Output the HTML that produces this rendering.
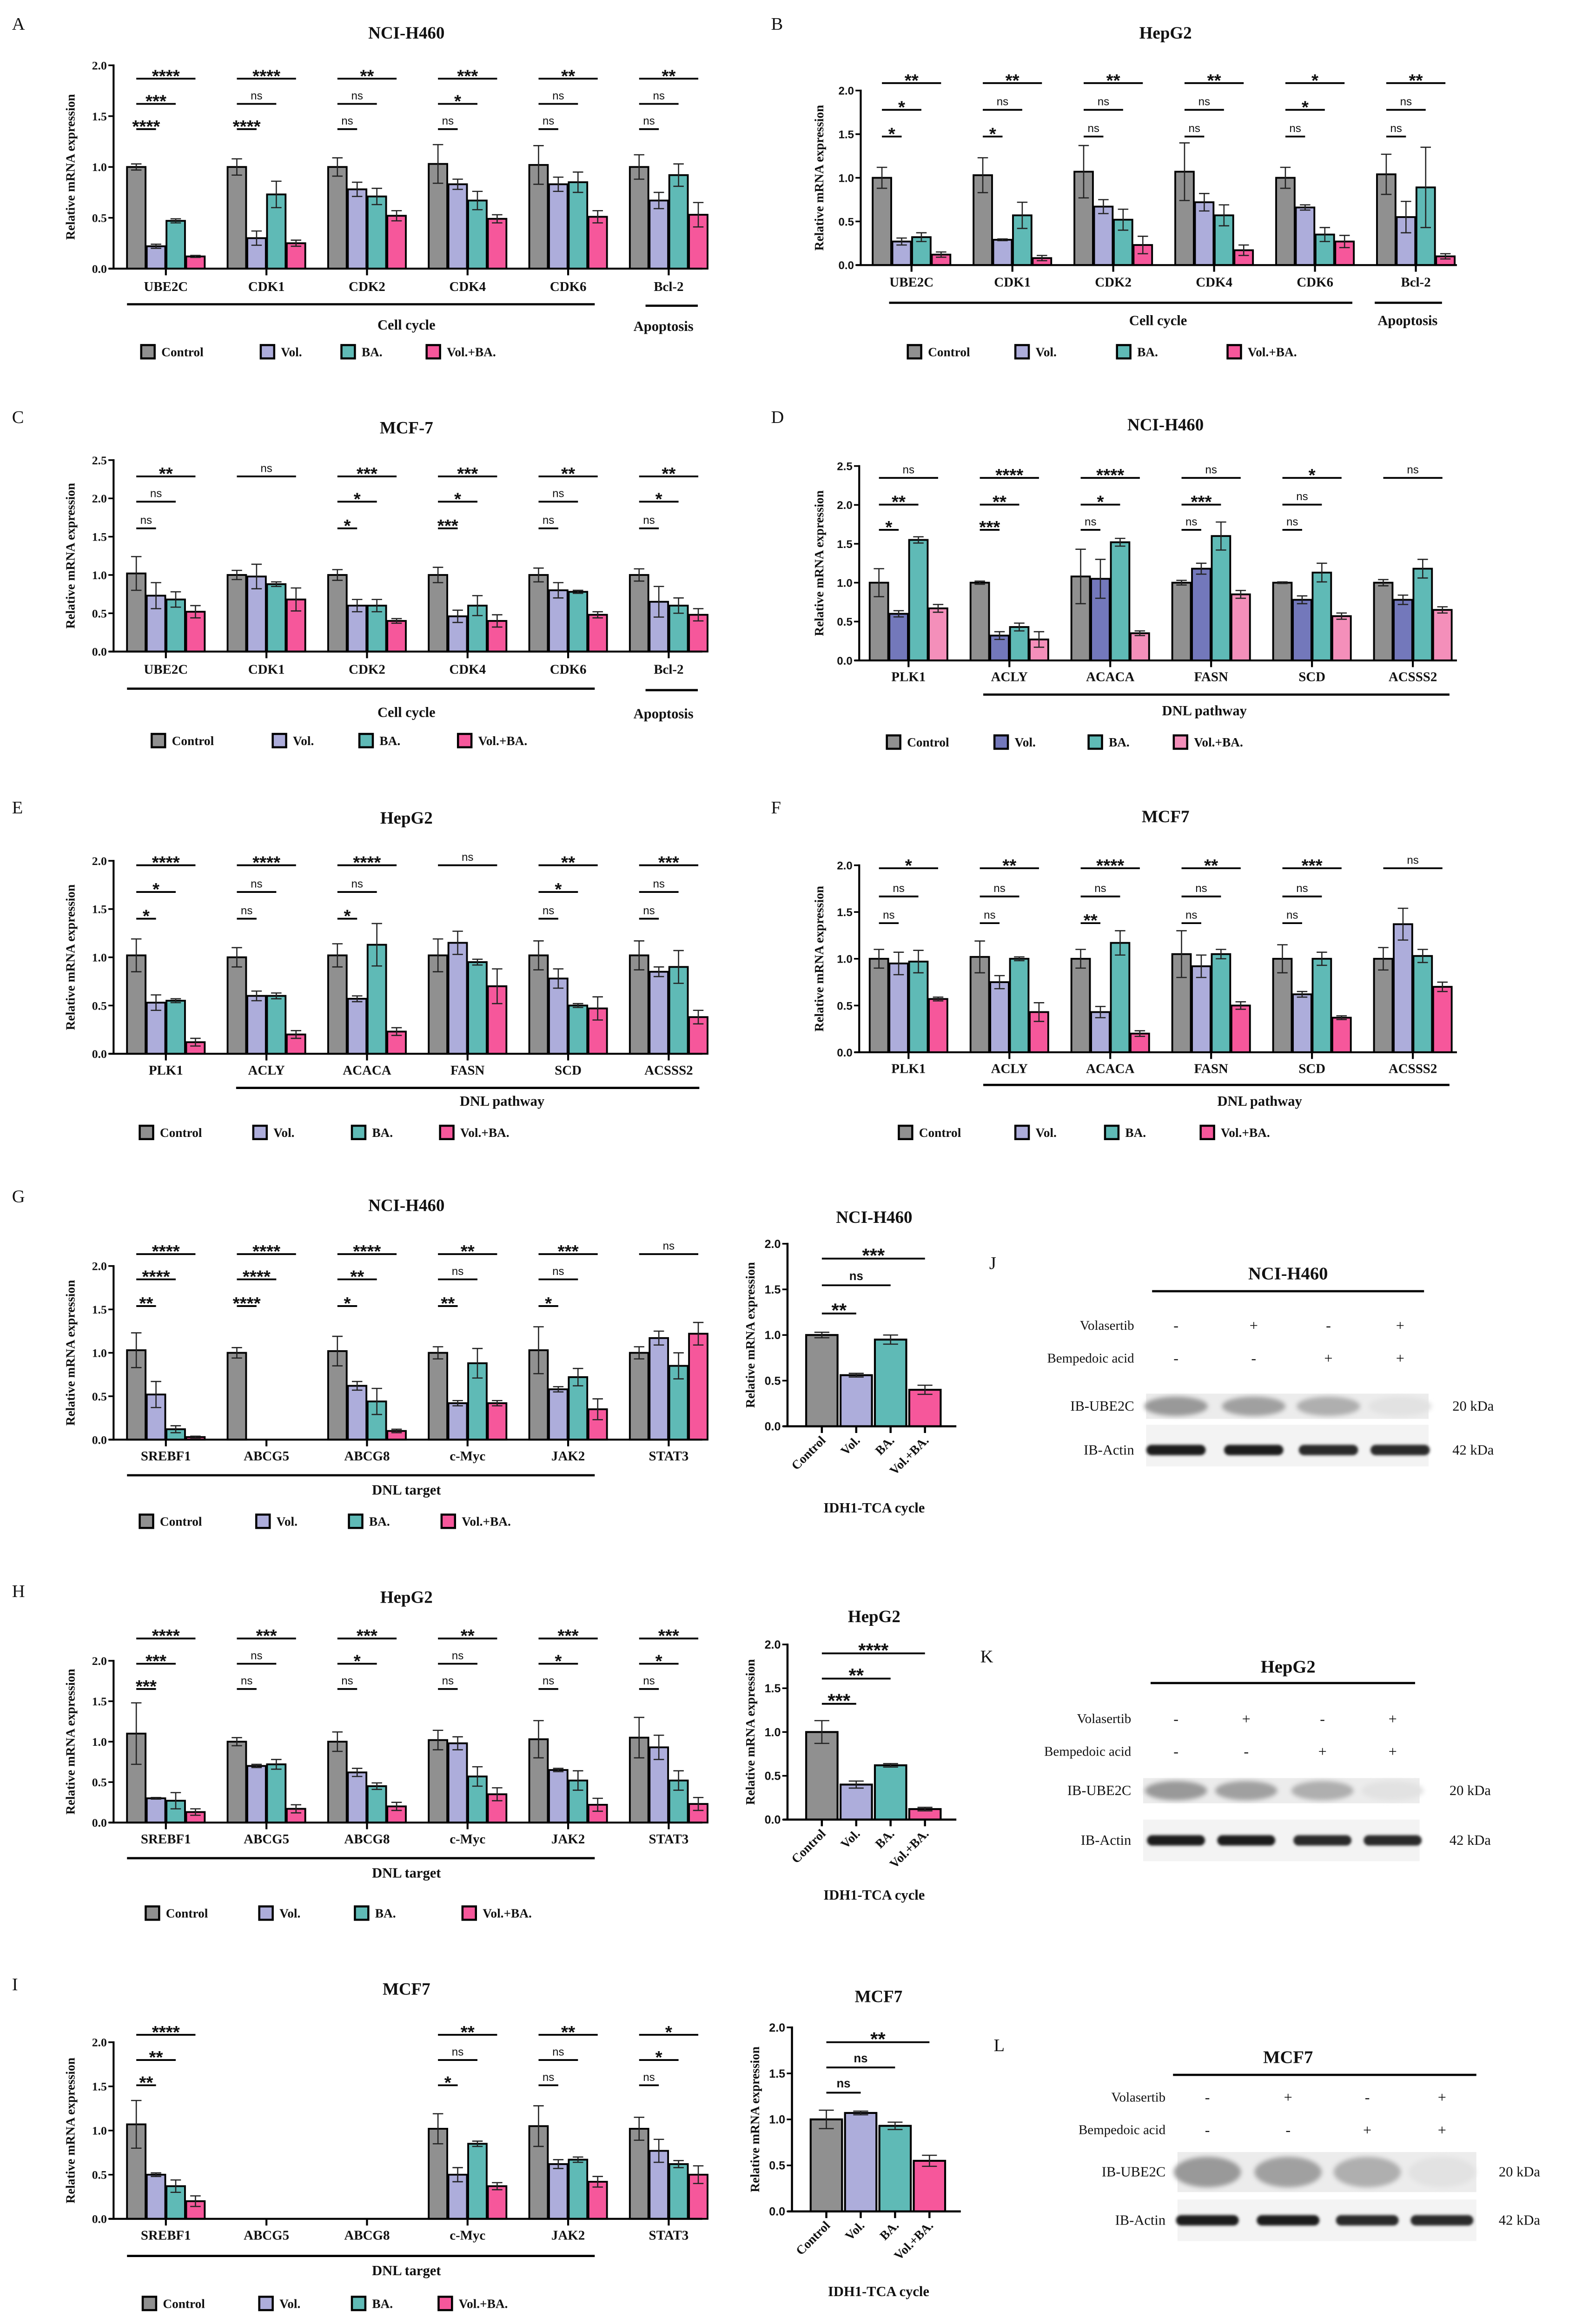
<!DOCTYPE html>
<html><head><meta charset="utf-8">
<style>
html,body{margin:0;padding:0;background:#fff;overflow:hidden;width:3375px;height:5026px;}
svg{display:block;}
text{font-family:"Liberation Serif",serif;fill:#111;}
.sans{font-family:"Liberation Sans",sans-serif;}
</style></head>
<body>
<svg id="fig" xmlns="http://www.w3.org/2000/svg" width="3375" height="5026" viewBox="0 0 1050 1574" preserveAspectRatio="none">
<defs>
<filter id="blur1" x="-20%" y="-50%" width="140%" height="200%"><feGaussianBlur stdDeviation="1.6"/></filter>
<filter id="blur2" x="-20%" y="-50%" width="140%" height="200%"><feGaussianBlur stdDeviation="0.9"/></filter>
</defs>
</svg>
<script>
// ===== DATA =====
const groupSeries = ['Control','Vol.','BA.','Vol.+BA.'];
const A_cats = ['UBE2C','CDK1','CDK2','CDK4','CDK6','Bcl-2'];
const A_vals = [[1.0,0.22,0.47,0.12],[1.0,0.30,0.73,0.25],[1.0,0.78,0.71,0.52],[1.03,0.83,0.67,0.49],[1.02,0.83,0.85,0.51],[1.0,0.67,0.92,0.53]];
const A_errs = [[0.03,0.02,0.02,0.01],[0.08,0.07,0.13,0.03],[0.09,0.07,0.08,0.05],[0.19,0.05,0.09,0.04],[0.19,0.07,0.1,0.06],[0.12,0.08,0.11,0.12]];
const A_sig = [['****','***','****'],['****','ns','****'],['**','ns','ns'],['***','*','ns'],['**','ns','ns'],['**','ns','ns']];

const B_cats = ['UBE2C','CDK1','CDK2','CDK4','CDK6','Bcl-2'];
const B_vals = [[1.0,0.27,0.32,0.12],[1.03,0.29,0.57,0.08],[1.07,0.67,0.52,0.23],[1.07,0.72,0.57,0.17],[1.0,0.66,0.35,0.27],[1.04,0.55,0.89,0.1]];
const B_errs = [[0.12,0.04,0.05,0.03],[0.2,0.01,0.15,0.03],[0.3,0.08,0.12,0.1],[0.33,0.1,0.12,0.06],[0.12,0.03,0.08,0.07],[0.23,0.18,0.46,0.03]];
const B_sig = [['**','*','*'],['**','ns','*'],['**','ns','ns'],['**','ns','ns'],['*','*','ns'],['**','ns','ns']];

const C_cats = ['UBE2C','CDK1','CDK2','CDK4','CDK6','Bcl-2'];
const C_vals = [[1.02,0.73,0.68,0.52],[1.0,0.98,0.88,0.68],[1.0,0.6,0.6,0.4],[1.0,0.46,0.6,0.4],[1.0,0.8,0.78,0.48],[1.0,0.65,0.6,0.48]];
const C_errs = [[0.22,0.17,0.1,0.08],[0.06,0.16,0.03,0.15],[0.07,0.08,0.08,0.03],[0.1,0.08,0.13,0.08],[0.09,0.1,0.02,0.04],[0.08,0.2,0.1,0.08]];
const C_sig = [['**','ns','ns'],['ns','',''],['***','*','*'],['***','*','***'],['**','ns','ns'],['**','*','ns']];

const D_cats = ['PLK1','ACLY','ACACA','FASN','SCD','ACSSS2'];
const D_vals = [[1.0,0.6,1.55,0.67],[1.0,0.32,0.43,0.27],[1.08,1.05,1.52,0.35],[1.0,1.18,1.6,0.85],[1.0,0.78,1.13,0.57],[1.0,0.78,1.18,0.65]];
const D_errs = [[0.18,0.04,0.04,0.05],[0.02,0.05,0.05,0.1],[0.35,0.25,0.05,0.03],[0.03,0.07,0.18,0.05],[0.01,0.05,0.12,0.04],[0.04,0.06,0.12,0.04]];
const D_sig = [['ns','**','*'],['****','**','***'],['****','*','ns'],['ns','***','ns'],['*','ns','ns'],['ns','','']];

const E_cats = ['PLK1','ACLY','ACACA','FASN','SCD','ACSSS2'];
const E_vals = [[1.02,0.53,0.55,0.12],[1.0,0.6,0.6,0.2],[1.02,0.57,1.13,0.23],[1.02,1.15,0.95,0.7],[1.02,0.78,0.5,0.47],[1.02,0.85,0.9,0.38]];
const E_errs = [[0.17,0.08,0.02,0.04],[0.1,0.05,0.03,0.04],[0.12,0.03,0.22,0.04],[0.17,0.12,0.03,0.18],[0.15,0.1,0.02,0.12],[0.15,0.05,0.17,0.07]];
const E_sig = [['****','*','*'],['****','ns','ns'],['****','ns','*'],['ns','',''],['**','*','ns'],['***','ns','ns']];

const F_cats = ['PLK1','ACLY','ACACA','FASN','SCD','ACSSS2'];
const F_vals = [[1.0,0.95,0.97,0.57],[1.02,0.75,1.0,0.43],[1.0,0.43,1.17,0.2],[1.05,0.92,1.05,0.5],[1.0,0.62,1.0,0.37],[1.0,1.37,1.03,0.7]];
const F_errs = [[0.1,0.12,0.12,0.02],[0.17,0.07,0.02,0.1],[0.1,0.06,0.13,0.03],[0.25,0.12,0.05,0.04],[0.15,0.03,0.07,0.02],[0.12,0.17,0.07,0.05]];
const F_sig = [['*','ns','ns'],['**','ns','ns'],['****','ns','**'],['**','ns','ns'],['***','ns','ns'],['ns','','']];

const G_cats = ['SREBF1','ABCG5','ABCG8','c-Myc','JAK2','STAT3'];
const G_vals = [[1.03,0.52,0.12,0.03],[1.0,0,0,0],[1.02,0.62,0.44,0.1],[1.0,0.42,0.88,0.42],[1.03,0.58,0.72,0.35],[1.0,1.17,0.85,1.22]];
const G_errs = [[0.2,0.15,0.04,0.01],[0.06,0,0,0],[0.17,0.05,0.15,0.02],[0.07,0.03,0.17,0.03],[0.27,0.03,0.1,0.12],[0.07,0.08,0.15,0.13]];
const G_sig = [['****','****','**'],['****','****','****'],['****','**','*'],['**','ns','**'],['***','ns','*'],['ns','','']];

const H_cats = ['SREBF1','ABCG5','ABCG8','c-Myc','JAK2','STAT3'];
const H_vals = [[1.1,0.3,0.27,0.13],[1.0,0.7,0.72,0.17],[1.0,0.62,0.45,0.2],[1.02,0.98,0.57,0.35],[1.03,0.65,0.52,0.22],[1.05,0.93,0.52,0.23]];
const H_errs = [[0.38,0.01,0.1,0.04],[0.05,0.02,0.06,0.05],[0.12,0.05,0.04,0.05],[0.12,0.08,0.12,0.08],[0.23,0.02,0.12,0.08],[0.25,0.15,0.12,0.08]];
const H_sig = [['****','***','***'],['***','ns','ns'],['***','*','ns'],['**','ns','ns'],['***','*','ns'],['***','*','ns']];

const I_cats = ['SREBF1','ABCG5','ABCG8','c-Myc','JAK2','STAT3'];
const I_vals = [[1.07,0.5,0.37,0.2],[0,0,0,0],[0,0,0,0],[1.02,0.5,0.85,0.37],[1.05,0.62,0.67,0.42],[1.02,0.77,0.62,0.5]];
const I_errs = [[0.27,0.02,0.07,0.06],[0,0,0,0],[0,0,0,0],[0.17,0.08,0.03,0.04],[0.23,0.05,0.03,0.06],[0.13,0.13,0.04,0.1]];
const I_sig = [['****','**','**'],['','',''],['','',''],['**','ns','*'],['**','ns','ns'],['*','*','ns']];

const IDH_G_vals = [1.0,0.56,0.95,0.4];
const IDH_G_errs = [0.03,0.02,0.05,0.05];
const IDH_G_sig = ['***','ns','**'];
const IDH_H_vals = [1.0,0.4,0.62,0.12];
const IDH_H_errs = [0.13,0.04,0.02,0.02];
const IDH_H_sig = ['****','**','***'];
const IDH_I_vals = [1.0,1.07,0.93,0.55];
const IDH_I_errs = [0.1,0.02,0.04,0.06];
const IDH_I_sig = ['**','ns','ns'];

const yTicks2 = [0,0.5,1.0,1.5,2.0];
const yTicks25 = [0,0.5,1.0,1.5,2.0,2.5];
const volSigns = ['-','+','-','+'];
const baSigns = ['-','-','+','+'];
const ube2cBand = [0.55,0.5,0.4,0.06];
const actinBand = [0.95,0.95,0.88,0.88];

// ===== DRAWING =====
const NS='http://www.w3.org/2000/svg';
const fig=document.getElementById('fig');
function el(tag,attrs,parent,txt){const e=document.createElementNS(NS,tag);for(const k in attrs)e.setAttribute(k,attrs[k]);if(txt!==undefined)e.textContent=txt;(parent||fig).appendChild(e);return e;}
const COL1=['#909090','#adaddb','#5fbab6','#f6579b'];
const COL2=['#909090','#7378bb','#5fbab6','#f48fba'];

function barPanel(p){
  const g=el('g',{});
  
  
  const ymax=p.ticks[p.ticks.length-1];
  const Y=v=>p.y0-v/ymax*(p.y0-p.ytop);
  const X=i=>p.gx0+i*p.gstep;
  const pitch=13.2,bw=12.4;
  const pl=el('text',{x:p.label[1],y:p.label[2],'font-size':12},g,p.label[0]);
  
  const t=el('text',{x:p.title[1],y:p.title[2],'font-size':11.5,'font-weight':'bold','text-anchor':'middle'},g,p.title[0]);
  
  for(let i=0;i<p.cats.length;i++){
    const cx=X(i);
    for(let s=0;s<4;s++){
      const v=p.vals[i][s],e=p.errs[i][s];
      if(v<=0)continue;
      const bx=cx+(s-1.5)*pitch;
      const r=el('rect',{x:bx-bw/2,y:Y(v),width:bw,height:Y(0)-Y(v),fill:p.cols[s],stroke:'#000','stroke-width':1.2},g);
      
      
      if(e>0){
        el('line',{x1:bx,x2:bx,y1:Y(v-e),y2:Y(v+e),stroke:'#222','stroke-width':0.8},g);
        el('line',{x1:bx-3.5,x2:bx+3.5,y1:Y(v+e),y2:Y(v+e),stroke:'#222','stroke-width':0.8},g);
        el('line',{x1:bx-3.5,x2:bx+3.5,y1:Y(v-e),y2:Y(v-e),stroke:'#222','stroke-width':0.8},g);
      }
    }
    el('line',{x1:cx,x2:cx,y1:p.y0,y2:p.y0+4.5,stroke:'#000','stroke-width':1.3},g);
    const cl=el('text',{x:cx,y:p.catY,'font-size':9,'font-weight':'bold','text-anchor':'middle'},g,p.cats[i]);
    
    for(let k=0;k<3;k++){
      const s=p.sig[i][k];if(!s)continue;
      const x1=cx-1.5*pitch,x2=cx+(1.5-k)*pitch;
      el('line',{x1:x1,x2:x2,y1:p.sigY[k],y2:p.sigY[k],stroke:'#000','stroke-width':1.2},g);
      const tx=(x1+x2)/2;
      if(s==='ns'){const n=el('text',{x:tx,y:p.sigY[k]-3,'font-size':7.5,'text-anchor':'middle',class:'sans'},g,'ns');}
      else{const n=el('text',{x:tx,y:p.sigY[k]+2.2,'font-size':12,'font-weight':'bold','text-anchor':'middle',class:'sans'},g,s);}
    }
  }
  const ya=el('line',{x1:p.ax,x2:p.ax,y1:p.y0+0.6,y2:Y(ymax)-0.6,stroke:'#000','stroke-width':1.3},g);
  
  const xa=el('line',{x1:p.ax-3,x2:p.axEnd,y1:p.y0,y2:p.y0,stroke:'#000','stroke-width':1.3},g);
  
  for(const tk of p.ticks){
    el('line',{x1:p.ax-3.5,x2:p.ax,y1:Y(tk),y2:Y(tk),stroke:'#000','stroke-width':1.1},g);
    const tl=el('text',{x:p.ax-4.5,y:Y(tk)+2.8,'font-size':p.sansTicks?7.5:8,'font-weight':'bold','text-anchor':'end',class:p.sansTicks?'sans':''},g,tk.toFixed(1));
    
  }
  const ymid=(p.y0+Y(ymax))/2;
  const yl=el('text',{x:0,y:0,'font-size':8.6,'font-weight':'bold','text-anchor':'middle',transform:`translate(${p.ylx},${ymid}) rotate(-90)`},g,'Relative mRNA expression');
  
  for(const b of p.brackets){
    el('line',{x1:b[0],x2:b[1],y1:b[2],y2:b[2],stroke:'#000','stroke-width':1.5},g);
    const bt=el('text',{x:b[4],y:b[5],'font-size':9.5,'font-weight':'bold','text-anchor':'middle'},g,b[3]);
    
  }
  for(let s=0;s<4;s++){
    const lx=p.leg[1][s];
    const sq=el('rect',{x:lx-4.5,y:p.leg[0]-4.5,width:9,height:9,fill:p.cols[s],stroke:'#000','stroke-width':1.4},g);
    
    const lt=el('text',{x:lx+9,y:p.leg[0]+3,'font-size':8.5,'font-weight':'bold'},g,groupSeries[s]);
    
  }
}

function idhPanel(p){
  const g=el('g',{});
  
  
  const ymax=2;
  const Y=v=>p.y0-v/ymax*(p.y0-p.ytop);
  const X=i=>p.ax+23+i*23;
  const bw=21;
  const t=el('text',{x:p.title[1],y:p.title[2],'font-size':11.5,'font-weight':'bold','text-anchor':'middle'},g,p.title[0]);
  
  for(let s=0;s<4;s++){
    const v=p.vals[s],e=p.errs[s],cx=X(s);
    const r=el('rect',{x:cx-bw/2,y:Y(v),width:bw,height:Y(0)-Y(v),fill:COL1[s],stroke:'#000','stroke-width':1.3},g);
    
    el('line',{x1:cx,x2:cx,y1:Y(v-e),y2:Y(v+e),stroke:'#222','stroke-width':0.8},g);
    el('line',{x1:cx-5,x2:cx+5,y1:Y(v+e),y2:Y(v+e),stroke:'#222','stroke-width':0.8},g);
    el('line',{x1:cx-5,x2:cx+5,y1:Y(v-e),y2:Y(v-e),stroke:'#222','stroke-width':0.8},g);
    el('line',{x1:cx,x2:cx,y1:p.y0,y2:p.y0+4.5,stroke:'#000','stroke-width':1.4},g);
    const cl=el('text',{x:0,y:0,'font-size':8.5,'font-weight':'bold','text-anchor':'end',transform:`translate(${cx+3},${p.y0+10}) rotate(-45)`},g,groupSeries[s]);
    
  }
  for(let k=0;k<3;k++){
    const s=p.sig[k];
    const x1=X(0),x2=X(3-k);
    el('line',{x1:x1,x2:x2,y1:p.sigY[k],y2:p.sigY[k],stroke:'#000','stroke-width':1.2},g);
    const tx=(x1+x2)/2;
    let n;
    if(s==='ns') n=el('text',{x:tx,y:p.sigY[k]-3.5,'font-size':8,'font-weight':'bold','text-anchor':'middle',class:'sans'},g,'ns');
    else n=el('text',{x:tx,y:p.sigY[k]+2.4,'font-size':13,'font-weight':'bold','text-anchor':'middle',class:'sans'},g,s);
    
  }
  const ya=el('line',{x1:p.ax,x2:p.ax,y1:p.y0+0.6,y2:Y(2)-0.6,stroke:'#000','stroke-width':1.4},g);
  
  const xa=el('line',{x1:p.ax-3,x2:p.ax+113,y1:p.y0,y2:p.y0,stroke:'#000','stroke-width':1.4},g);
  
  for(const tk of yTicks2){
    el('line',{x1:p.ax-3.5,x2:p.ax,y1:Y(tk),y2:Y(tk),stroke:'#000','stroke-width':1.1},g);
    const tl=el('text',{x:p.ax-4.5,y:Y(tk)+2.8,'font-size':7.8,'font-weight':'bold','text-anchor':'end',class:'sans'},g,tk.toFixed(1));
    
  }
  const yl=el('text',{x:0,y:0,'font-size':8.6,'font-weight':'bold','text-anchor':'middle',transform:`translate(${p.ax-22},${(p.y0+Y(2))/2}) rotate(-90)`},g,'Relative mRNA expression');
  
  const xl=el('text',{x:p.xl[0],y:p.xl[1],'font-size':9.5,'font-weight':'bold','text-anchor':'middle'},g,'IDH1-TCA cycle');
  
}

function blot(p){
  const g=el('g',{});
  
  
  const lb=el('text',{x:p.label[1],y:p.label[2],'font-size':12},g,p.label[0]);
  
  const t=el('text',{x:p.title[1],y:p.title[2],'font-size':12,'font-weight':'bold','text-anchor':'middle'},g,p.title[0]);
  
  el('line',{x1:p.line[0],x2:p.line[1],y1:p.line[2],y2:p.line[2],stroke:'#000','stroke-width':1.5},g);
  const v=el('text',{x:p.lblR,y:p.rowY[0]+3,'font-size':9,'text-anchor':'end'},g,'Volasertib');
  
  const b=el('text',{x:p.lblR,y:p.rowY[1]+3,'font-size':9,'text-anchor':'end'},g,'Bempedoic acid');
  
  for(let i=0;i<4;i++){
    const a=el('text',{x:p.lanes[i],y:p.rowY[0]+3.5,'font-size':10,'text-anchor':'middle'},g,volSigns[i]);
    
    const c=el('text',{x:p.lanes[i],y:p.rowY[1]+3.5,'font-size':10,'text-anchor':'middle'},g,baSigns[i]);
    
  }
  const b1=el('rect',{x:p.bx[0],y:p.b1[0],width:p.bx[1]-p.bx[0],height:p.b1[1]-p.b1[0],fill:'#ececec'},g);
  
  const b2=el('rect',{x:p.bx[0],y:p.b2[0],width:p.bx[1]-p.bx[0],height:p.b2[1]-p.b2[0],fill:'#f3f3f3'},g);
  
  const lw=(p.bx[1]-p.bx[0])/4;
  for(let i=0;i<4;i++){
    const cx=p.lanes[i];
    const u=ube2cBand[i];
    const g1=Math.round(235-u*150);
    const e1=el('ellipse',{cx:cx,cy:(p.b1[0]+p.b1[1])/2,rx:lw*0.45,ry:(p.b1[1]-p.b1[0])*0.38,fill:`rgb(${g1},${g1},${g1})`,filter:'url(#blur1)'},g);
    
    const a=actinBand[i];
    const g2=Math.round(240-a*225);
    const e2=el('rect',{x:cx-lw*0.42,y:p.actY-3.5,width:lw*0.84,height:7,rx:3.5,fill:`rgb(${g2},${g2},${g2})`,filter:'url(#blur2)'},g);
    
  }
  const l1=el('text',{x:p.lblR,y:(p.b1[0]+p.b1[1])/2+3,'font-size':9.5,'text-anchor':'end'},g,'IB-UBE2C');
  
  const l2=el('text',{x:p.lblR,y:p.actY+3,'font-size':9.5,'text-anchor':'end'},g,'IB-Actin');
  
  const k1=el('text',{x:p.kdaX,y:(p.b1[0]+p.b1[1])/2+3,'font-size':9.5},g,'20 kDa');
  
  const k2=el('text',{x:p.kdaX,y:p.actY+3,'font-size':9.5},g,'42 kDa');
  
}

barPanel({name:'panel-a',label:['A',8,20],title:['NCI-H460',272,26],cats:A_cats,vals:A_vals,errs:A_errs,sig:A_sig,cols:COL1,ticks:yTicks2,
 ax:76,axEnd:470,y0:181,ytop:44,gx0:111,gstep:67.3,catY:196,sigY:[53,70,87],ylx:50,
 brackets:[[85,398,205,'Cell cycle',272,222],[432,467,206,'Apoptosis',444,223]],leg:[237,[99,179,233,290]]});
barPanel({name:'panel-b',label:['B',516,20],title:['HepG2',780,26],cats:B_cats,vals:B_vals,errs:B_errs,sig:B_sig,cols:COL1,ticks:yTicks2,sansTicks:true,
 ax:576,axEnd:975,y0:178.6,ytop:61,gx0:610,gstep:67.5,catY:193,sigY:[56,74,92],ylx:551,
 brackets:[[595,905,204,'Cell cycle',775,219],[920,965,204,'Apoptosis',942,219]],leg:[237,[612,684,752,826]]});
barPanel({name:'panel-c',label:['C',8,285],title:['MCF-7',272,292],cats:C_cats,vals:C_vals,errs:C_errs,sig:C_sig,cols:COL1,ticks:yTicks25,
 ax:76,axEnd:470,y0:439,ytop:310,gx0:111,gstep:67.3,catY:454,sigY:[321,338,356],ylx:50,
 brackets:[[85,398,464,'Cell cycle',272,483],[432,467,465,'Apoptosis',444,484]],leg:[499,[106,187,245,311]]});
barPanel({name:'panel-d',label:['D',516,285],title:['NCI-H460',780,290],cats:D_cats,vals:D_vals,errs:D_errs,sig:D_sig,cols:COL2,ticks:yTicks25,sansTicks:true,
 ax:575,axEnd:975,y0:445,ytop:314,gx0:608,gstep:67.5,catY:459,sigY:[322,340,357],ylx:551,
 brackets:[[658,970,468,'DNL pathway',806,482]],leg:[500,[598,670,733,790]]});
barPanel({name:'panel-e',label:['E',8,548],title:['HepG2',272,555],cats:E_cats,vals:E_vals,errs:E_errs,sig:E_sig,cols:COL1,ticks:yTicks2,
 ax:76,axEnd:470,y0:710,ytop:580,gx0:111,gstep:67.3,catY:724,sigY:[583,601,619],ylx:50,
 brackets:[[158,468,733,'DNL pathway',336,745]],leg:[763,[98,174,240,299]]});
barPanel({name:'panel-f',label:['F',516,548],title:['MCF7',780,554],cats:F_cats,vals:F_vals,errs:F_errs,sig:F_sig,cols:COL1,ticks:yTicks2,sansTicks:true,
 ax:575,axEnd:975,y0:709,ytop:583,gx0:608,gstep:67.5,catY:723,sigY:[585,604,622],ylx:551,
 brackets:[[658,970,731,'DNL pathway',843,745]],leg:[763,[606,684,744,808]]});
barPanel({name:'panel-g',label:['G',8,810],title:['NCI-H460',272,816],cats:G_cats,vals:G_vals,errs:G_errs,sig:G_sig,cols:COL1,ticks:yTicks2,
 ax:76,axEnd:470,y0:970,ytop:853,gx0:111,gstep:67.3,catY:984,sigY:[845,862,880],ylx:50,
 brackets:[[85,398,994,'DNL target',272,1007]],leg:[1025,[98,176,238,300]]});
barPanel({name:'panel-h',label:['H',8,1076],title:['HepG2',272,1080],cats:H_cats,vals:H_vals,errs:H_errs,sig:H_sig,cols:COL1,ticks:yTicks2,
 ax:76,axEnd:470,y0:1228,ytop:1119,gx0:111,gstep:67.3,catY:1242,sigY:[1104,1121,1138],ylx:50,
 brackets:[[85,398,1252,'DNL target',272,1265]],leg:[1289,[102,178,242,314]]});
barPanel({name:'panel-i',label:['I',8,1341],title:['MCF7',272,1344],cats:I_cats,vals:I_vals,errs:I_errs,sig:I_sig,cols:COL1,ticks:yTicks2,
 ax:76,axEnd:470,y0:1495,ytop:1376,gx0:111,gstep:67.3,catY:1509,sigY:[1371,1388,1405],ylx:50,
 brackets:[[85,398,1520,'DNL target',272,1533]],leg:[1552,[100,178,240,298]]});

idhPanel({name:'panel-g-idh1',title:['NCI-H460',585,824],vals:IDH_G_vals,errs:IDH_G_errs,sig:IDH_G_sig,ax:527,y0:961,ytop:838,sigY:[848,866,885],xl:[585,1019]});
idhPanel({name:'panel-h-idh1',title:['HepG2',585,1093],vals:IDH_H_vals,errs:IDH_H_errs,sig:IDH_H_sig,ax:527,y0:1226,ytop:1108,sigY:[1114,1131,1148],xl:[585,1280]});
idhPanel({name:'panel-i-idh1',title:['MCF7',588,1349],vals:IDH_I_vals,errs:IDH_I_errs,sig:IDH_I_sig,ax:530,y0:1490,ytop:1366,sigY:[1376,1393,1410],xl:[588,1547]});

blot({name:'panel-j',label:['J',662,855],title:['NCI-H460',862,862],line:[771,953,870],lblR:759,rowY:[893,915],lanes:[787,839,889,937],
 bx:[767,956],b1:[939,956],b2:[960,988],actY:977,kdaX:972});
blot({name:'panel-k',label:['K',656,1120],title:['HepG2',862,1127],line:[770,947,1134],lblR:757,rowY:[1158,1180],lanes:[787,834,885,932],
 bx:[765,950],b1:[1198,1215],b2:[1226,1254],actY:1240,kdaX:970});
blot({name:'panel-l',label:['L',665,1382],title:['MCF7',862,1390],line:[785,988,1398],lblR:780,rowY:[1413,1435],lanes:[808,862,915,965],
 bx:[788,988],b1:[1450,1477],b2:[1482,1510],actY:1496,kdaX:1003});
</script>
</body></html>
